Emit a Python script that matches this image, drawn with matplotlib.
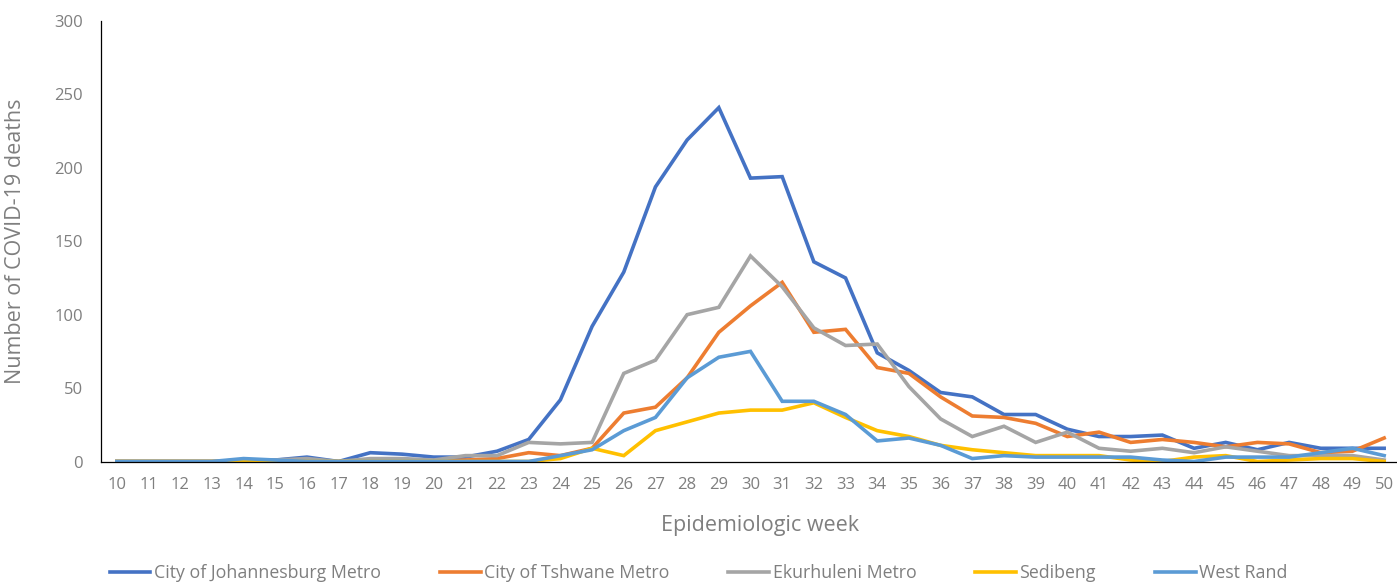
import matplotlib
matplotlib.use("Agg")
import matplotlib.pyplot as plt

# weekly COVID-19 deaths by district
weeks = list(range(10, 51))

joburg = [0, 0, 0, 0, 1, 1, 3, 0, 6, 5, 3, 3, 7, 15, 42, 92, 129, 187, 219, 241,
          193, 194, 136, 125, 74, 62, 47, 44, 32, 32, 22, 17, 17, 18, 9, 13, 8, 13, 9, 9, 9]
tshwane = [0, 0, 0, 0, 0, 0, 0, 0, 0, 0, 0, 1, 2, 6, 4, 9, 33, 37, 57, 88,
           106, 122, 88, 90, 64, 60, 44, 31, 30, 26, 17, 20, 13, 15, 13, 10, 13, 12, 6, 7, 16]
ekurhuleni = [0, 0, 0, 0, 0, 1, 2, 0, 2, 2, 1, 4, 4, 13, 12, 13, 60, 69, 100, 105,
              140, 119, 91, 79, 80, 51, 29, 17, 24, 13, 20, 9, 7, 9, 6, 10, 7, 4, 4, 4, 1]
sedibeng = [0, 0, 0, 0, 0, 0, 0, 0, 0, 0, 0, 0, 0, 0, 2, 9, 4, 21, 27, 33,
            35, 35, 40, 30, 21, 17, 11, 8, 6, 4, 4, 4, 1, 0, 3, 4, 0, 1, 2, 2, 0]
west_rand = [0, 0, 0, 0, 2, 1, 0, 0, 0, 0, 0, 0, 0, 0, 4, 8, 21, 30, 57, 71,
             75, 41, 41, 32, 14, 16, 11, 2, 4, 3, 3, 3, 3, 1, 0, 3, 3, 3, 6, 9, 4]

series = [
    ("City of Johannesburg Metro", joburg, "#4472C4"),
    ("City of Tshwane Metro", tshwane, "#ED7D31"),
    ("Ekurhuleni Metro", ekurhuleni, "#A5A5A5"),
    ("Sedibeng", sedibeng, "#FFC000"),
    ("West Rand", west_rand, "#5B9BD5"),
]

plt.rcParams['font.family'] = ['Open Sans', 'DejaVu Sans']
txt = "#7F7F7F"

fig = plt.figure(figsize=(13.97, 5.82), dpi=100)
ax = fig.add_axes([101 / 1397, 1 - 461.5 / 582, 1299 / 1397, 440.5 / 582])

for name, vals, col in series:
    ax.plot(weeks, vals, color=col, lw=2.6, label=name, solid_joinstyle='miter')

ax.set_xlim(9.5, 50.5)
ax.set_ylim(0, 300)
ax.set_xticks(weeks)
ax.set_yticks(range(0, 301, 50))

for s in ['top', 'right']:
    ax.spines[s].set_visible(False)
for s in ['left', 'bottom']:
    ax.spines[s].set_color('black')
    ax.spines[s].set_linewidth(0.9)

ax.tick_params(axis='both', length=0, labelsize=12, labelcolor=txt)
ax.tick_params(axis='y', pad=13)
ax.tick_params(axis='x', pad=11)

ax.set_ylabel("Number of COVID-19 deaths", fontsize=15.5, color=txt)
ax.yaxis.set_label_coords(-0.058, 0.5)
ax.set_xlabel("Epidemiologic week", fontsize=15.5, color=txt)
ax.xaxis.set_label_coords(0.507, -0.122)

fig.legend(loc='lower center', bbox_to_anchor=(0.5, -0.028), ncol=5, frameon=False,
           fontsize=12.8, labelcolor=txt, handlelength=2.3, handletextpad=0.2,
           columnspacing=3.3)

fig.savefig("out.png", dpi=100)
